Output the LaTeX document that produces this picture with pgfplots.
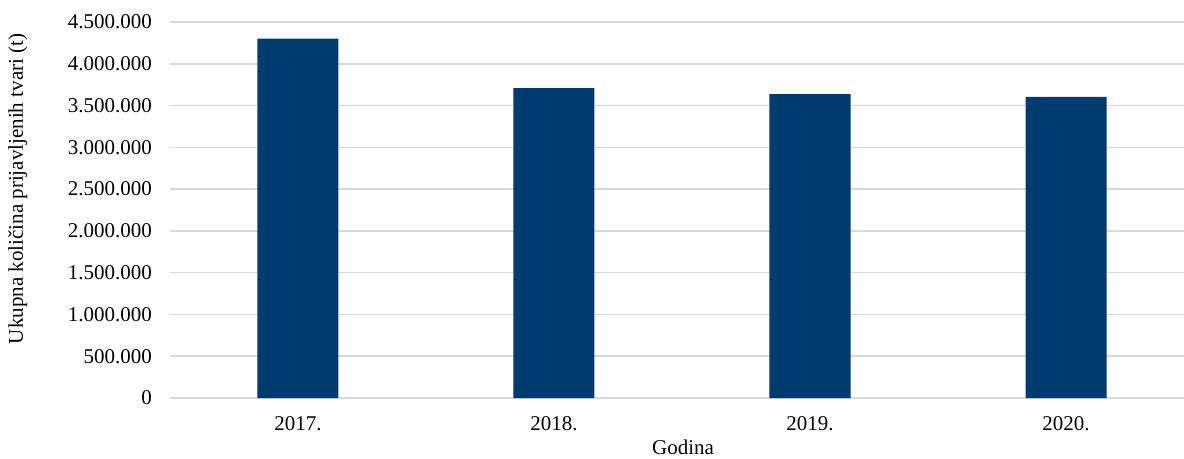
\documentclass[border=0pt]{standalone}
\usepackage{fontspec}
\setmainfont{Liberation Serif}
\usepackage{pgfplots}
\pgfplotsset{compat=1.18}
\definecolor{barblue}{RGB}{0,59,111}
\definecolor{gridgray}{RGB}{217,217,217}
\begin{document}
\begin{tikzpicture}
\begin{axis}[
  scale only axis,
  width=1014bp, height=376bp,
  anchor=south west, at={(0,0)},
  xmin=-0.5, xmax=3.4609,
  ymin=0, ymax=4500000,
  ytick={0,500000,...,4500000},
  xtick={0,1,2,3},
  xticklabels={2017.,2018.,2019.,2020.},
  scaled y ticks=false,
  /pgf/number format/.cd, fixed, 1000 sep={.}, assume math mode=true,
  /pgfplots/.cd,
  axis x line*=bottom,
  axis y line*=left,
  x axis line style={draw=gridgray, line width=1.5bp},
  y axis line style={draw=none},
  ymajorgrids,
  grid style={draw=gridgray, line width=1.5bp},
  major tick length=0pt,
  tick label style={font=\fontsize{21bp}{25bp}\selectfont, inner sep=0pt},
  xticklabel style={anchor=base, yshift=-32bp},
  yticklabel style={anchor=east, xshift=-18bp},
  label style={font=\fontsize{21bp}{25bp}\selectfont, inner sep=0pt},
  xlabel={Godina},
  xlabel style={at={(axis description cs:0.506,-0.150)}, anchor=base},
  ylabel={Ukupna količina prijavljenih tvari (t)},
  ylabel style={at={(axis description cs:-0.15,0.556)}, anchor=center},
  clip=false,
]
\addplot[ybar, bar width=81bp, fill=barblue, draw=none] coordinates {
  (0,4300000) (1,3708000) (2,3636000) (3,3604000)
};
\end{axis}
\pgfresetboundingbox
\path[use as bounding box] (-170bp,-61bp) rectangle (1014bp,398bp);
\end{tikzpicture}
\end{document}
